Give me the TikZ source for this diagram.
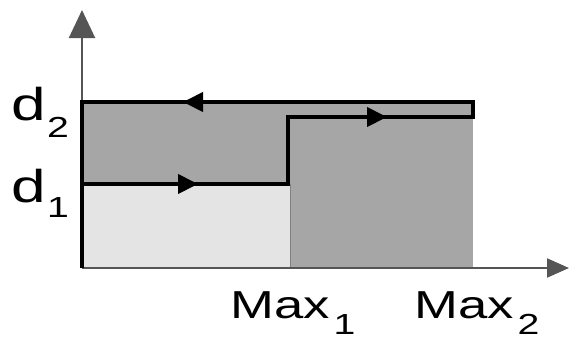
\documentclass[tikz,border=0pt]{standalone}
\usepackage{fontspec}
\setmainfont{Liberation Sans}
\usetikzlibrary{arrows.meta}
\definecolor{darkfill}{RGB}{166,166,166}
\definecolor{lightfill}{RGB}{228,228,228}
\definecolor{axisgray}{RGB}{85,85,85}
\newcommand\labsub[3]{\hspace{#1}\raisebox{-#2}[0pt][0pt]{\fontsize{29}{29}\selectfont #3}}
\newcommand\stretched[1]{\scalebox{1.35}[1]{#1}}
\tikzset{
  axis/.style={draw=axisgray, line width=2pt},
  cycle/.style={draw=black, line width=4pt, line join=miter},
  dirtip/.style={-{Triangle[length=20pt,width=19pt]}, draw=black, line width=4pt},
  lab/.style={inner sep=0pt, font=\fontsize{46}{46}\selectfont},
  maxlab/.style={inner sep=0pt, font=\fontsize{39}{39}\selectfont},
}
\begin{document}
\begin{tikzpicture}[x=1pt,y=-1pt]
\useasboundingbox (0,0) rectangle (569,341);
\fill[darkfill] (82,102) rectangle (473,268);
\fill[lightfill] (82,184) rectangle (290,268);
\draw[gray, line width=0.8pt] (290,184) -- (290,268);
% axes
\coordinate (o) at (82,268);
\coordinate (ytop) at (82,10);
\coordinate (xend) at (569,268);
\draw[axis, -{Triangle[length=28pt,width=26pt]}] (o) -- (ytop);
\draw[axis, -{Triangle[length=22pt,width=19pt]}] (o) -- (xend);
% cycle path
\draw[cycle] (82,268) -- (82,102) -- (473,102) -- (473,117) -- (288,117) -- (288,184) -- (82,184);
% direction arrows
\draw[dirtip] (197,184) -- (198,184);
\draw[dirtip] (386,117) -- (387,117);
\draw[dirtip] (184,102) -- (183,102);
% labels
\node[lab, anchor=base west] (d2) at (11,120) {\stretched{d\labsub{1pt}{17pt}{2}}};
\node[lab, anchor=base west] (d1) at (11,202) {\stretched{d\labsub{1pt}{15pt}{1}}};
\node[maxlab, anchor=base west] (m1) at (230,318) {\stretched{Max\labsub{3pt}{16pt}{1}}};
\node[maxlab, anchor=base west] (m2) at (414,318) {\stretched{Max\labsub{3pt}{16pt}{2}}};
\end{tikzpicture}
\end{document}
